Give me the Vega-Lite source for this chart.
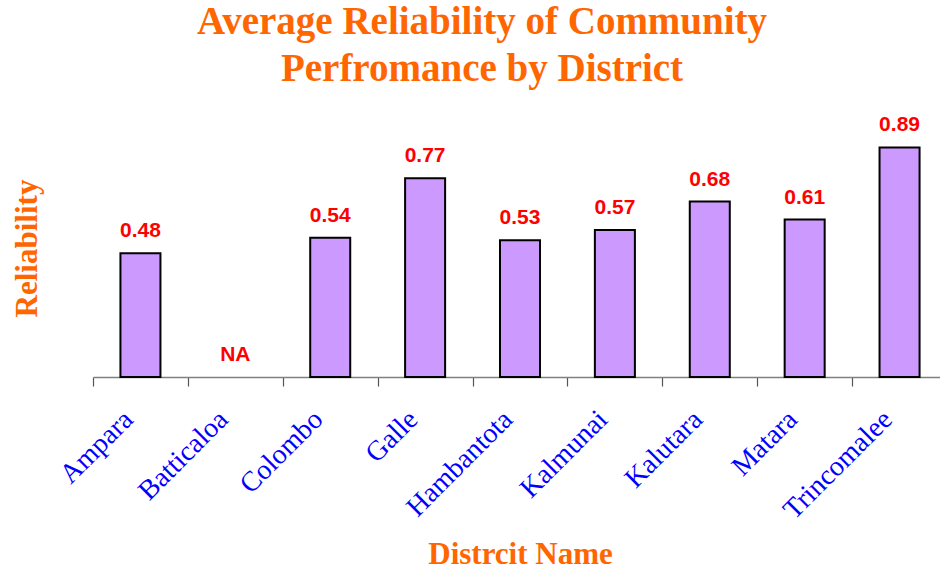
{
  "$schema": "https://vega.github.io/schema/vega-lite/v6.json",
  "width": 854,
  "height": 258,
  "autosize": {"type": "none"},
  "padding": {"left": 93, "top": 119, "right": -7, "bottom": 193},
  "background": "white",
  "title": {
    "text": ["Average Reliability of Community", "Perfromance by District"],
    "font": "Liberation Serif",
    "fontSize": 39,
    "fontWeight": "bold",
    "color": "#FF6600",
    "lineHeight": 47,
    "anchor": "middle",
    "frame": "group",
    "dx": -38,
    "dy": -21
  },
  "data": {
    "values": [
      {"district": "Ampara", "value": 0.48},
      {"district": "Batticaloa", "value": null},
      {"district": "Colombo", "value": 0.54},
      {"district": "Galle", "value": 0.77},
      {"district": "Hambantota", "value": 0.53},
      {"district": "Kalmunai", "value": 0.57},
      {"district": "Kalutara", "value": 0.68},
      {"district": "Matara", "value": 0.61},
      {"district": "Trincomalee", "value": 0.89}
    ]
  },
  "transform": [
    {"calculate": "isValid(datum.value) ? datum.value : 0", "as": "labelValue"},
    {"calculate": "isValid(datum.value) ? format(datum.value, '.2f') : 'NA'", "as": "labelText"}
  ],
  "encoding": {
    "x": {
      "field": "district",
      "type": "nominal",
      "sort": ["Ampara", "Batticaloa", "Colombo", "Galle", "Hambantota", "Kalmunai", "Kalutara", "Matara", "Trincomalee"],
      "scale": {"paddingInner": 0, "paddingOuter": 0},
      "axis": {
        "title": "Distrcit Name",
        "titleFont": "Liberation Serif",
        "titleFontSize": 31,
        "titleFontWeight": "bold",
        "titleColor": "#FF6600",
        "titleBaseline": "alphabetic",
        "titleY": 186,
        "labelAngle": -45,
        "labelAlign": "right",
        "labelBaseline": "middle",
        "labelOffset": -12,
        "labelPadding": 29,
        "labelFont": "Liberation Serif",
        "labelFontSize": 28,
        "labelColor": "#0000FF",
        "tickBand": "extent",
        "tickSize": 9,
        "tickColor": "#555555",
        "tickWidth": 1.2,
        "domainColor": "#808080",
        "domainWidth": 1.5,
        "grid": false
      }
    }
  },
  "layer": [
    {
      "mark": {"type": "bar", "fill": "#CC99FF", "stroke": "#000000", "strokeWidth": 2, "width": {"band": 0.4217}},
      "encoding": {
        "y": {
          "field": "value",
          "type": "quantitative",
          "scale": {"domain": [0, 1]},
          "axis": {
            "title": "Reliability",
            "titleFont": "Liberation Serif",
            "titleFontSize": 31,
            "titleFontWeight": "bold",
            "titleColor": "#FF6600",
            "titlePadding": 50,
            "domain": false,
            "ticks": false,
            "labels": false,
            "grid": false
          }
        }
      }
    },
    {
      "mark": {"type": "text", "font": "Liberation Sans", "fontSize": 21, "fontWeight": "bold", "color": "#FF0000", "baseline": "alphabetic", "dy": -16},
      "encoding": {
        "y": {"field": "labelValue", "type": "quantitative"},
        "text": {"field": "labelText"}
      }
    }
  ],
  "config": {"view": {"stroke": null}}
}
